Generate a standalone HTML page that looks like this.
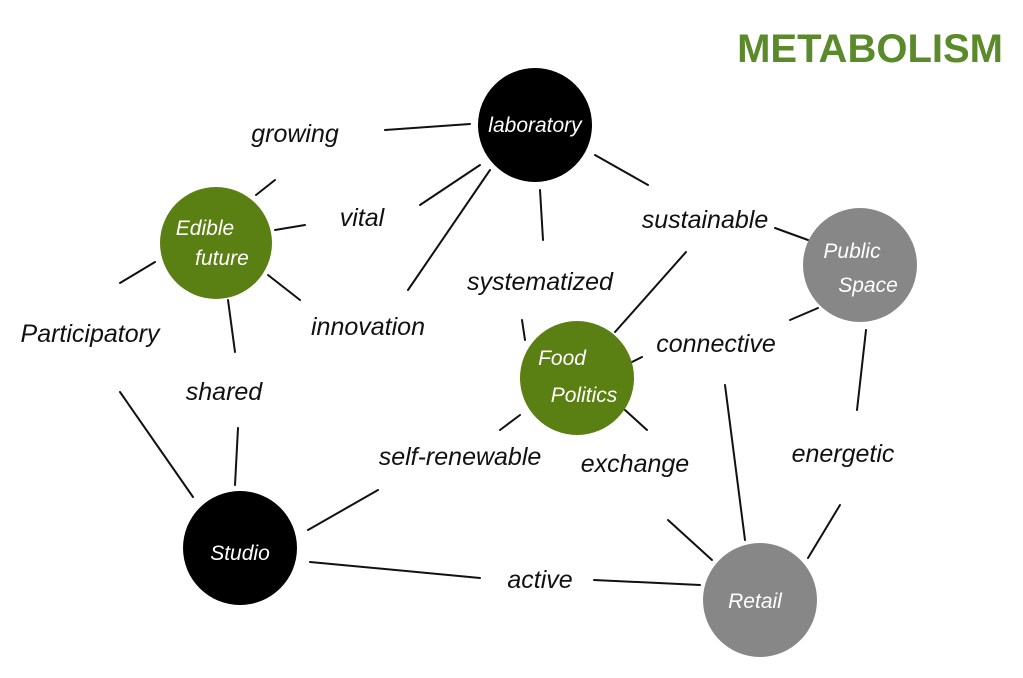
<!DOCTYPE html>
<html><head><meta charset="utf-8"><style>
html,body{margin:0;padding:0;background:#fff;}
svg{display:block;}
text{font-family:"Liberation Sans",sans-serif;}
.l{font-size:25px;fill:#111;font-style:italic;}
.c{font-size:21px;fill:#fff;font-style:italic;}
</style></head><body>
<svg width="1023" height="678" viewBox="0 0 1023 678" xmlns="http://www.w3.org/2000/svg">
<text x="1003" y="62" text-anchor="end" font-size="40" font-weight="bold" fill="#5b8a2a">METABOLISM</text>
<g stroke="#111" stroke-width="2" stroke-linecap="round">
<line x1="385" y1="130" x2="470" y2="124"/>
<line x1="256" y1="195" x2="275" y2="180"/>
<line x1="275" y1="230" x2="305" y2="225"/>
<line x1="420" y1="205" x2="480" y2="165"/>
<line x1="120" y1="283" x2="155" y2="262"/>
<line x1="268" y1="275" x2="300" y2="300"/>
<line x1="408" y1="290" x2="490" y2="170"/>
<line x1="540" y1="190" x2="543" y2="240"/>
<line x1="595" y1="155" x2="648" y2="185"/>
<line x1="775" y1="228" x2="808" y2="240"/>
<line x1="686" y1="252" x2="615" y2="332"/>
<line x1="522" y1="320" x2="525" y2="340"/>
<line x1="632" y1="362" x2="642" y2="357"/>
<line x1="790" y1="320" x2="818" y2="308"/>
<line x1="866" y1="330" x2="857" y2="410"/>
<line x1="840" y1="505" x2="808" y2="558"/>
<line x1="625" y1="410" x2="647" y2="430"/>
<line x1="668" y1="520" x2="712" y2="560"/>
<line x1="725" y1="385" x2="745" y2="540"/>
<line x1="520" y1="415" x2="500" y2="430"/>
<line x1="378" y1="490" x2="308" y2="530"/>
<line x1="228" y1="300" x2="235" y2="352"/>
<line x1="238" y1="428" x2="235" y2="485"/>
<line x1="120" y1="392" x2="193" y2="497"/>
<line x1="310" y1="562" x2="480" y2="578"/>
<line x1="594" y1="580" x2="700" y2="585"/>
</g>
<circle cx="535" cy="125" r="57" fill="#000"/>
<circle cx="216" cy="243" r="56" fill="#5a7f12"/>
<circle cx="860" cy="265" r="57" fill="#878787"/>
<circle cx="577" cy="378" r="57" fill="#5a7f12"/>
<circle cx="240" cy="548" r="57" fill="#000"/>
<circle cx="760" cy="600" r="57" fill="#878787"/>
<text class="c" x="535" y="132" text-anchor="middle">laboratory</text>
<text class="c" x="205" y="235" text-anchor="middle">Edible</text>
<text class="c" x="222" y="265" text-anchor="middle">future</text>
<text class="c" x="852" y="258" text-anchor="middle">Public</text>
<text class="c" x="868" y="292" text-anchor="middle">Space</text>
<text class="c" x="562" y="365" text-anchor="middle">Food</text>
<text class="c" x="584" y="402" text-anchor="middle">Politics</text>
<text class="c" x="240" y="560" text-anchor="middle">Studio</text>
<text class="c" x="755" y="608" text-anchor="middle">Retail</text>
<text class="l" x="295" y="142" text-anchor="middle">growing</text>
<text class="l" x="362" y="226" text-anchor="middle">vital</text>
<text class="l" x="90" y="342" text-anchor="middle">Participatory</text>
<text class="l" x="368" y="335" text-anchor="middle">innovation</text>
<text class="l" x="540" y="290" text-anchor="middle">systematized</text>
<text class="l" x="705" y="228" text-anchor="middle">sustainable</text>
<text class="l" x="716" y="352" text-anchor="middle">connective</text>
<text class="l" x="224" y="400" text-anchor="middle">shared</text>
<text class="l" x="460" y="465" text-anchor="middle">self-renewable</text>
<text class="l" x="635" y="472" text-anchor="middle">exchange</text>
<text class="l" x="843" y="462" text-anchor="middle">energetic</text>
<text class="l" x="540" y="588" text-anchor="middle">active</text>
</svg>
</body></html>
